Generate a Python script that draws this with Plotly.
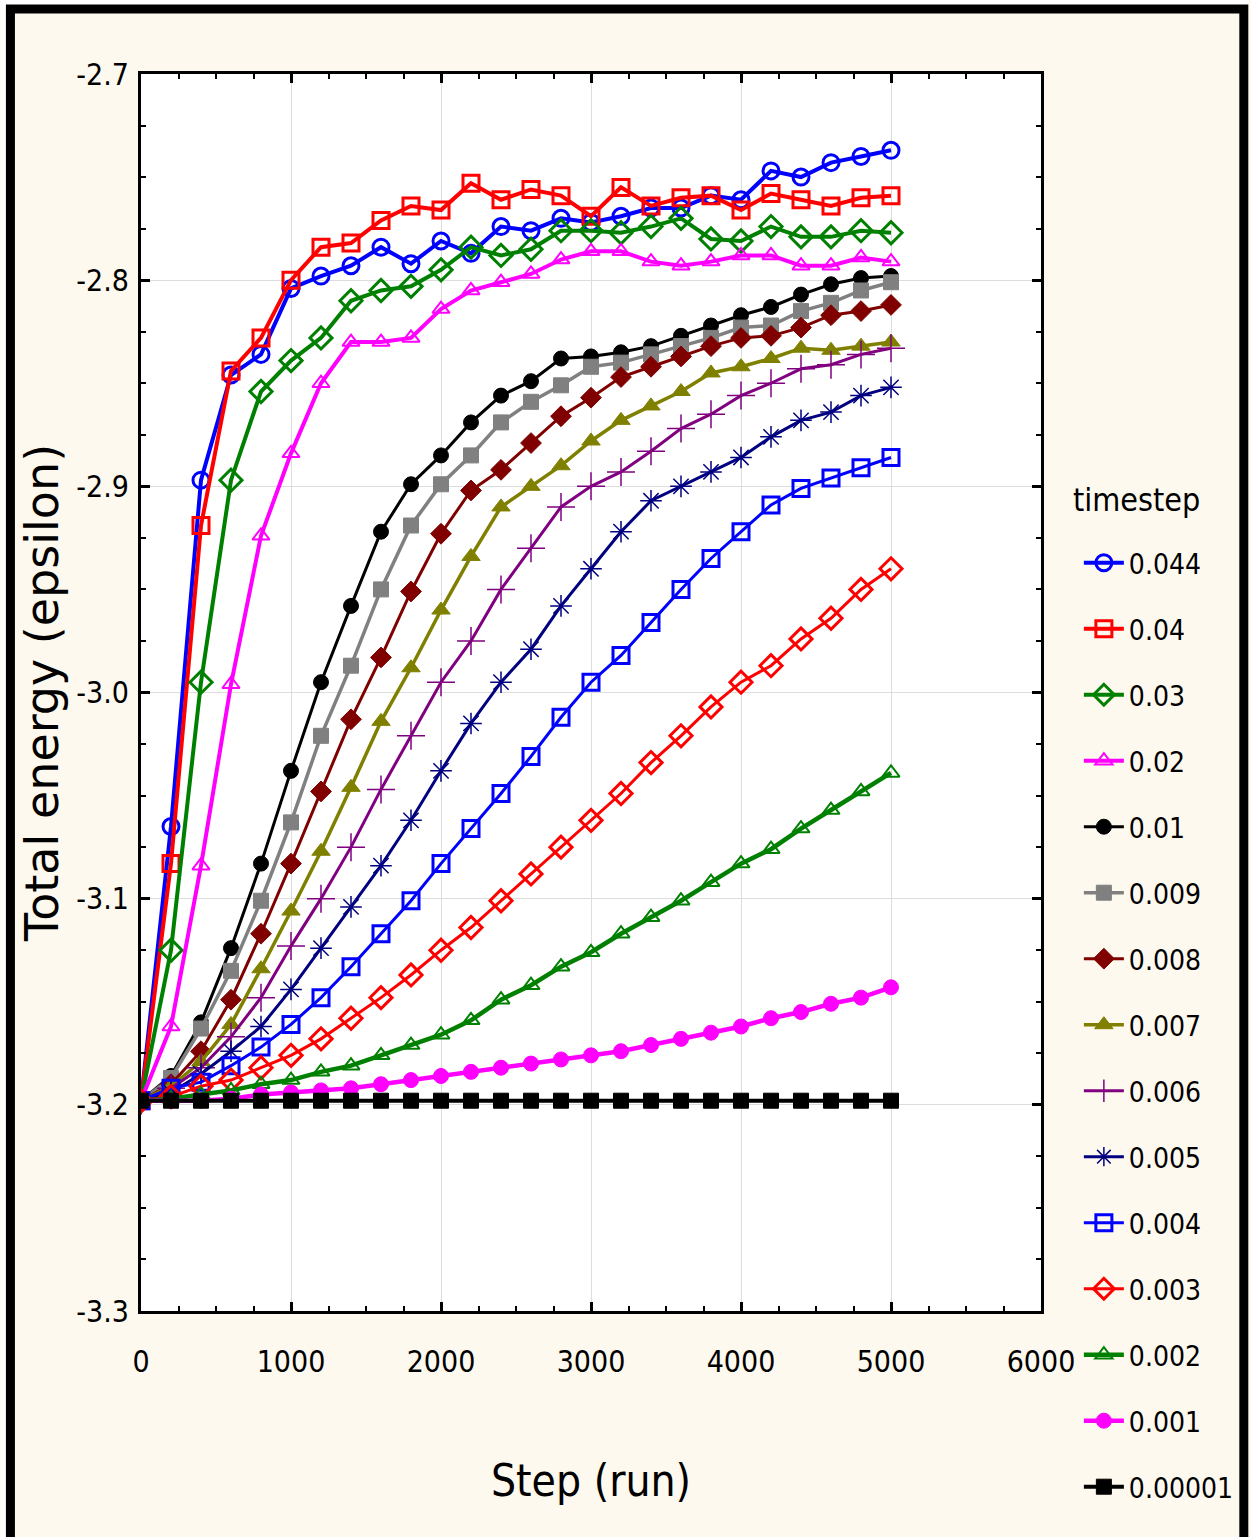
import plotly.graph_objects as go

steps = list(range(0, 5001, 200))

ts_labels = ["0.044", "0.04", "0.03", "0.02", "0.01", "0.009", "0.008", "0.007",
             "0.006", "0.005", "0.004", "0.003", "0.002", "0.001", "0.00001"]

e_0044 = [-3.198, -3.065, -2.897, -2.846, -2.836, -2.804, -2.798, -2.793, -2.784, -2.792,
          -2.781, -2.787, -2.774, -2.776, -2.770, -2.772, -2.769, -2.765, -2.765, -2.759,
          -2.761, -2.747, -2.750, -2.743, -2.740, -2.737]
e_004 = [-3.198, -3.083, -2.919, -2.844, -2.828, -2.800, -2.784, -2.782, -2.771, -2.764,
         -2.766, -2.753, -2.761, -2.756, -2.759, -2.769, -2.755, -2.764, -2.760, -2.759,
         -2.766, -2.758, -2.761, -2.764, -2.760, -2.759]
e_003 = [-3.198, -3.125, -2.995, -2.897, -2.854, -2.839, -2.828, -2.810, -2.805, -2.803,
         -2.795, -2.784, -2.788, -2.785, -2.776, -2.776, -2.777, -2.774, -2.770, -2.780,
         -2.781, -2.774, -2.779, -2.779, -2.776, -2.777]
e_002 = [-3.198, -3.162, -3.084, -2.996, -2.924, -2.884, -2.850, -2.830, -2.830, -2.828,
         -2.814, -2.805, -2.801, -2.797, -2.790, -2.786, -2.786, -2.791, -2.793, -2.791,
         -2.788, -2.788, -2.793, -2.793, -2.789, -2.791]
e_001 = [-3.198, -3.186, -3.160, -3.124, -3.083, -3.038, -2.995, -2.958, -2.922, -2.899,
         -2.885, -2.869, -2.856, -2.849, -2.838, -2.837, -2.835, -2.832, -2.827, -2.822,
         -2.817, -2.813, -2.807, -2.802, -2.799, -2.798]
e_0009 = [-3.198, -3.187, -3.163, -3.135, -3.101, -3.063, -3.021, -2.987, -2.950, -2.919,
          -2.899, -2.885, -2.869, -2.859, -2.851, -2.842, -2.840, -2.836, -2.832, -2.828,
          -2.823, -2.822, -2.815, -2.811, -2.805, -2.801]
e_0008 = [-3.198, -3.190, -3.174, -3.149, -3.117, -3.083, -3.048, -3.013, -2.983, -2.951,
          -2.923, -2.902, -2.892, -2.879, -2.866, -2.857, -2.847, -2.842, -2.837, -2.832,
          -2.828, -2.827, -2.823, -2.817, -2.815, -2.812]
e_0007 = [-3.198, -3.191, -3.179, -3.161, -3.134, -3.106, -3.077, -3.046, -3.014, -2.988,
          -2.960, -2.934, -2.910, -2.900, -2.890, -2.878, -2.868, -2.861, -2.854, -2.845,
          -2.842, -2.838, -2.833, -2.834, -2.832, -2.830]
e_0006 = [-3.198, -3.192, -3.182, -3.167, -3.148, -3.123, -3.100, -3.075, -3.047, -3.021,
          -2.995, -2.975, -2.950, -2.930, -2.910, -2.900, -2.893, -2.883, -2.872, -2.865,
          -2.856, -2.850, -2.843, -2.841, -2.836, -2.833]
e_0005 = [-3.198, -3.194, -3.185, -3.174, -3.162, -3.144, -3.124, -3.104, -3.084, -3.062,
          -3.038, -3.015, -2.995, -2.979, -2.958, -2.940, -2.922, -2.907, -2.900, -2.893,
          -2.886, -2.876, -2.868, -2.864, -2.856, -2.852]
e_0004 = [-3.198, -3.192, -3.189, -3.181, -3.172, -3.161, -3.148, -3.133, -3.117, -3.101,
          -3.083, -3.066, -3.049, -3.031, -3.012, -2.995, -2.982, -2.966, -2.950, -2.935,
          -2.922, -2.909, -2.901, -2.896, -2.891, -2.886]
e_0003 = [-3.198, -3.196, -3.191, -3.188, -3.182, -3.176, -3.168, -3.158, -3.148, -3.137,
          -3.125, -3.114, -3.101, -3.088, -3.075, -3.062, -3.049, -3.034, -3.021, -3.007,
          -2.995, -2.987, -2.974, -2.964, -2.950, -2.940]
e_0002 = [-3.198, -3.197, -3.195, -3.193, -3.190, -3.188, -3.184, -3.181, -3.176, -3.171,
          -3.166, -3.159, -3.149, -3.142, -3.133, -3.126, -3.117, -3.109, -3.101, -3.092,
          -3.083, -3.076, -3.066, -3.057, -3.048, -3.039]
e_0001 = [-3.198, -3.198, -3.198, -3.197, -3.195, -3.194, -3.193, -3.192, -3.190, -3.188,
          -3.186, -3.184, -3.182, -3.180, -3.178, -3.176, -3.174, -3.171, -3.168, -3.165,
          -3.162, -3.158, -3.155, -3.151, -3.148, -3.143]
e_000001 = [-3.198] * 26

series = [e_0044, e_004, e_003, e_002, e_001, e_0009, e_0008, e_0007,
          e_0006, e_0005, e_0004, e_0003, e_0002, e_0001, e_000001]

x_ticks = [0, 1000, 2000, 3000, 4000, 5000, 6000]
y_ticks = [-3.3, -3.2, -3.1, -3.0, -2.9, -2.8, -2.7]
y_tick_text = ["-3.3", "-3.2", "-3.1", "-3.0", "-2.9", "-2.8", "-2.7"]

# colour, symbol, marker size, line width, marker outline width
styles = [
    ("#0000FF", "circle-open", 16, 4.0, 3.0),
    ("#FF0000", "square-open", 16, 4.0, 3.0),
    ("#008000", "diamond-open", 17, 4.0, 3.0),
    ("#FF00FF", "triangle-up-open", 15, 4.0, 2.0),
    ("#000000", "circle", 15, 3.0, 1.0),
    ("#808080", "square", 15, 3.5, 1.0),
    ("#800000", "diamond", 16, 3.0, 1.0),
    ("#808000", "triangle-up", 16, 3.5, 1.0),
    ("#800080", "cross-thin-open", 20, 3.0, 1.5),
    ("#000080", "asterisk-open", 18, 3.0, 1.5),
    ("#0000FF", "square-open", 16, 3.0, 3.0),
    ("#FF0000", "diamond-open", 17, 3.0, 3.0),
    ("#008000", "triangle-up-open", 15, 4.5, 2.0),
    ("#FF00FF", "circle", 15, 4.5, 1.0),
    ("#000000", "square", 15, 4.0, 1.0),
]

FONT = "Liberation Sans Narrow, DejaVu Sans Condensed, Arial Narrow, sans-serif"

fig = go.Figure()
for i, (lab, ys) in enumerate(zip(ts_labels, series)):
    col, sym, msz, lw, mlw = styles[i]
    fig.add_trace(go.Scatter(
        x=steps, y=ys, name=lab, mode="lines+markers",
        legendgroup=f"g{i}",
        line=dict(color=col, width=lw),
        marker=dict(symbol=sym, size=msz, color=col, line=dict(color=col, width=mlw)),
    ))

# plot area geometry in pixels
W, H = 1251, 1537
L, R, T, B = 141, 1044, 74, 1311
pw, ph = R - L, B - T

def px(X):
    return (X - L) / pw

def py(Y):
    return (B - Y) / ph

shapes = [
    dict(type="rect", xref="paper", yref="paper", x0=px(0), x1=px(W), y0=py(0), y1=py(5),
         fillcolor="white", line=dict(width=0), layer="below"),
    dict(type="rect", xref="paper", yref="paper", x0=px(0), x1=px(5), y0=py(0), y1=py(H),
         fillcolor="white", line=dict(width=0), layer="below"),
    dict(type="rect", xref="paper", yref="paper", x0=px(10), x1=px(1247.5), y0=py(9), y1=py(H + 40),
         fillcolor="rgba(0,0,0,0)", line=dict(color="black", width=9), layer="above"),
]

annotations = [
    dict(text="timestep", xref="paper", yref="paper", x=px(1074), y=py(500),
         xanchor="left", yanchor="middle", showarrow=False,
         font=dict(family=FONT, size=32, color="black")),
]

fig.update_layout(
    width=W, height=H,
    margin=dict(l=L, r=W - R, t=T, b=H - B, pad=0),
    paper_bgcolor="#FEF9EE",
    plot_bgcolor="white",
    shapes=shapes,
    annotations=annotations,
    showlegend=True,
    legend=dict(
        x=px(1082), y=py(538), xanchor="left", yanchor="top",
        bgcolor="rgba(0,0,0,0)",
        font=dict(family=FONT, size=28, color="black"),
        tracegroupgap=26.6,
        itemwidth=40,
    ),
    font=dict(family=FONT, color="black"),
)

fig.update_xaxes(
    range=[0, 6000], tickvals=x_ticks, ticktext=[str(v) for v in x_ticks],
    showgrid=True, gridcolor="#DDDDDD", gridwidth=1,
    showline=True, linecolor="black", linewidth=3, mirror="allticks",
    ticks="inside", ticklen=9, tickwidth=3, tickcolor="black",
    minor=dict(ticks="inside", ticklen=5, tickwidth=2, dtick=250, tick0=0, showgrid=False, tickcolor="black"),
    tickfont=dict(family=FONT, size=30, color="black"),
    ticklabelstandoff=22,
    zeroline=False,
    title=dict(text="Step (run)", font=dict(family=FONT, size=44, color="black"), standoff=88),
    automargin=False,
)
fig.update_yaxes(
    range=[-3.3, -2.7], tickvals=y_ticks, ticktext=y_tick_text,
    showgrid=True, gridcolor="#DDDDDD", gridwidth=1,
    showline=True, linecolor="black", linewidth=3, mirror="allticks",
    ticks="inside", ticklen=9, tickwidth=3, tickcolor="black",
    minor=dict(ticks="inside", ticklen=5, tickwidth=2, dtick=0.025, tick0=-3.3, showgrid=False, tickcolor="black"),
    tickfont=dict(family=FONT, size=30, color="black"),
    ticklabelstandoff=3,
    zeroline=False,
    title=dict(text="Total energy (epsilon)", font=dict(family="DejaVu Sans", size=46, color="black"), standoff=4),
    automargin=False,
)

fig.write_html("out.html")
